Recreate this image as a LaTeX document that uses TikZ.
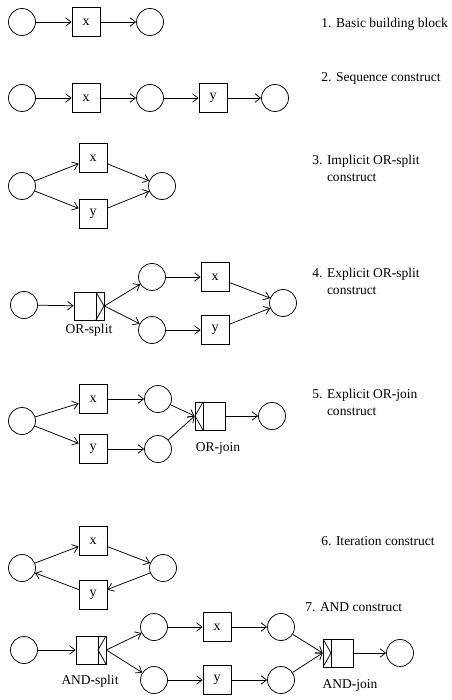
\documentclass[tikz,border=0pt]{standalone}
\usepackage{fontspec}
\setmainfont{Liberation Serif}
\usetikzlibrary{arrows.meta}
\newcommand{\hy}{{\bfseries -}}
\begin{document}
\begin{tikzpicture}[x=1pt,y=-1pt,line width=0.75pt,
  place/.style={circle,draw,minimum size=27pt,inner sep=0pt},
  task/.style={rectangle,draw,minimum width=28pt,minimum height=29pt,inner sep=0pt,font=\fontsize{14}{16}\selectfont},
  gate/.style={rectangle,draw,minimum width=30pt,minimum height=28pt,inner sep=0pt},
  orsplit/.style={gate,path picture={
    \draw ([xshift=-8pt]path picture bounding box.north east) -- ([xshift=-8pt]path picture bounding box.south east);
    \draw ([xshift=-8pt]path picture bounding box.north east) -- (path picture bounding box.east) -- ([xshift=-8pt]path picture bounding box.south east);}},
  andsplit/.style={gate,path picture={
    \draw ([xshift=-8pt]path picture bounding box.north east) -- ([xshift=-8pt]path picture bounding box.south east);
    \draw (path picture bounding box.north east) -- ([xshift=-8pt]path picture bounding box.east) -- (path picture bounding box.south east);}},
  orjoin/.style={gate,path picture={
    \draw ([xshift=8pt]path picture bounding box.north west) -- ([xshift=8pt]path picture bounding box.south west);
    \draw ([xshift=8pt]path picture bounding box.north west) -- (path picture bounding box.west) -- ([xshift=8pt]path picture bounding box.south west);}},
  andjoin/.style={gate,path picture={
    \draw ([xshift=8pt]path picture bounding box.north west) -- ([xshift=8pt]path picture bounding box.south west);
    \draw (path picture bounding box.north west) -- ([xshift=8pt]path picture bounding box.west) -- (path picture bounding box.south west);}},
  conn/.style={-{Straight Barb[length=5.5pt,width=8.5pt]}},
  lbl/.style={font=\fontsize{13.5}{17}\selectfont,align=left,anchor=west,inner sep=0pt},
  glbl/.style={font=\fontsize{13.5}{17}\selectfont,inner sep=0pt}
]
\useasboundingbox (0,0) rectangle (451,700);
% 1
\node[place] (a1) at (22,22) {};
\node[task] (a2) at (86,22) {x};
\node[place] (a3) at (150,22) {};
\draw[conn] (a1) -- (a2);
\draw[conn] (a2) -- (a3);
\node[lbl] (t1) at (321,24) {1. Basic building block};
% 2
\node[place] (b1) at (22,98) {};
\node[task] (b2) at (86,98) {x};
\node[place] (b3) at (150,98) {};
\node[task] (b4) at (213,98) {y};
\node[place] (b5) at (275,98) {};
\draw[conn] (b1) -- (b2);
\draw[conn] (b2) -- (b3);
\draw[conn] (b3) -- (b4);
\draw[conn] (b4) -- (b5);
\node[lbl] (t2) at (321,78) {2. Sequence construct};
% 3
\node[place] (c1) at (22,186) {};
\node[task] (c2) at (93,158) {x};
\node[task] (c3) at (93,214) {y};
\node[place] (c4) at (162,186) {};
\draw[conn] (c1) -- (c2);
\draw[conn] (c1) -- (c3);
\draw[conn] (c2) -- (c4);
\draw[conn] (c3) -- (c4);
\node[lbl] (t3) at (312,168) {3. Implicit OR\hy split\\\hphantom{3. }construct};
% 4
\node[place] (d1) at (24,305) {};
\node[orsplit] (d2) at (89,306) {};
\node[place] (d3) at (152,277) {};
\node[task] (d4) at (215,277) {x};
\node[place] (d5) at (152,330) {};
\node[task] (d6) at (215,330) {y};
\node[place] (d7) at (283,303) {};
\node[glbl] (d8) at (89,330) {OR\hy split};
\draw[conn] (d1) -- (d2);
\draw[conn] (d2.east) -- (d3);
\draw[conn] (d2.east) -- (d5);
\draw[conn] (d3) -- (d4);
\draw[conn] (d5) -- (d6);
\draw[conn] (d4) -- (d7);
\draw[conn] (d6) -- (d7);
\node[lbl] (t4) at (312,281) {4. Explicit OR\hy split\\\hphantom{4. }construct};
% 5
\node[place] (e1) at (22,421) {};
\node[task] (e2) at (93,399) {x};
\node[task] (e3) at (93,449) {y};
\node[place] (e4) at (158,399) {};
\node[place] (e5) at (158,449) {};
\node[orjoin] (e6) at (210,416) {};
\node[place] (e7) at (272,416) {};
\node[glbl] (e8) at (218,448) {OR\hy join};
\draw[conn] (e1) -- (e2);
\draw[conn] (e1) -- (e3);
\draw[conn] (e2) -- (e4);
\draw[conn] (e3) -- (e5);
\draw[conn] (e4) -- (e6.west);
\draw[conn] (e5) -- (e6.west);
\draw[conn] (e6) -- (e7);
\node[lbl] (t5) at (312,402) {5. Explicit OR\hy join\\\hphantom{5. }construct};
% 6
\node[place] (f1) at (22,568) {};
\node[task] (f2) at (93,541) {x};
\node[place] (f3) at (163,568) {};
\node[task] (f4) at (93,595) {y};
\draw[conn] (f1) -- (f2);
\draw[conn] (f2) -- (f3);
\draw[conn] (f3) -- (f4);
\draw[conn] (f4) -- (f1);
\node[lbl] (t6) at (321,541) {6. Iteration construct};
% 7
\node[place] (g1) at (24,650) {};
\node[andsplit] (g2) at (91,650) {};
\node[place] (g3) at (154,627) {};
\node[task] (g4) at (217,627) {x};
\node[place] (g5) at (154,680) {};
\node[task] (g6) at (217,680) {y};
\node[place] (g7) at (281,627) {};
\node[place] (g8) at (281,680) {};
\node[andjoin] (g9) at (338,653) {};
\node[place] (g10) at (400,653) {};
\node[glbl] (g11) at (90,681) {AND\hy split};
\node[glbl] (g12) at (350,685) {AND\hy join};
\draw[conn] (g1) -- (g2);
\draw[conn] (g2.east) -- (g3);
\draw[conn] (g2.east) -- (g5);
\draw[conn] (g3) -- (g4);
\draw[conn] (g5) -- (g6);
\draw[conn] (g4) -- (g7);
\draw[conn] (g6) -- (g8);
\draw[conn] (g7) -- (g9.west);
\draw[conn] (g8) -- (g9.west);
\draw[conn] (g9) -- (g10);
\node[lbl] (t7) at (305,607) {7. AND construct};
\end{tikzpicture}
\end{document}
